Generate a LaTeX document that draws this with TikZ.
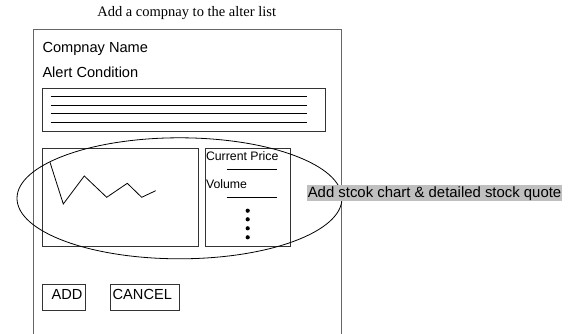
\documentclass[tikz,border=0pt]{standalone}
\usepackage{fontspec}
\setmainfont{Liberation Sans}
\newfontfamily\titlefont{Liberation Serif}
\begin{document}
\begin{tikzpicture}[x=1pt,y=-1pt,
  framecol/.style={draw=black!60, line width=1pt},
  boxline/.style={draw=black!80, line width=0.9pt},
  rbox/.style={boxline, rectangle, inner sep=0pt},
  big/.style={font=\fontsize{14.6}{16}\selectfont, inner sep=0pt},
  small/.style={font=\fontsize{12.3}{14}\selectfont, inner sep=0pt},
  thinline/.style={draw=black, line width=0.8pt},
  dotmark/.style={fill=black, circle, inner sep=0pt, minimum size=4.2pt},
]
\useasboundingbox (0,0) rectangle (571,333);
% title
\node[font=\titlefont\fontsize{14.5}{16}\selectfont, inner sep=0pt, anchor=base] (title) at (186.7,16.7) {Add a compnay to the alter list};
% outer frame (no bottom edge visible)
\coordinate (fbl) at (33.3,334);
\coordinate (ftl) at (33.3,29.3);
\coordinate (ftr) at (341.7,29.3);
\coordinate (fbr) at (341.7,334);
\draw[framecol] (fbl) -- (ftl) -- (ftr) -- (fbr);
% labels
\node[big, anchor=base west] (cname) at (42.3,52) {Compnay Name};
\node[big, anchor=base west] (acond) at (42.3,77.7) {Alert Condition};
% condition box
\node[rbox, minimum width=282.7pt, minimum height=42.7pt] (cbox) at (183.65,109.65) {};
\foreach \yy in {96.7,105.3,113.3,122}{
  \draw[thinline] (50.7,\yy) -- (307.3,\yy);
}
% chart box and quote box
\node[rbox, minimum width=156pt, minimum height=98.4pt] (chart) at (120.3,197.5) {};
\node[rbox, minimum width=85pt, minimum height=98.4pt] (quote) at (247.8,197.5) {};
\draw[thinline, line join=miter] (50,162.3) -- (63.3,204) -- (84.3,176) -- (106.7,197.3) -- (127.3,183.3) -- (141.7,197.3) -- (155.7,190.7);
\node[small, anchor=base west] (cprice) at (205.8,160) {Current Price};
\draw[thinline] (226.7,169.3) -- (276.7,169.3);
\node[small, anchor=base west] (vol) at (205.8,188.7) {Volume};
\draw[thinline] (226.7,197.7) -- (276.7,197.7);
\foreach \yy in {210.7,219.3,228.3,237.3}{
  \node[dotmark] at (247.7,\yy) {};
}
% ellipse
\coordinate (ec) at (179.5,198.3);
\draw[black, line width=0.8pt] (ec) ellipse [x radius=162.5pt, y radius=60.5pt];
% annotation
\node[big, anchor=west, fill=black!25, inner xsep=0.5pt, inner ysep=1pt, text height=11pt, text depth=3pt, font=\fontsize{14.9}{16}\selectfont] (note) at (307.1,193) {Add stcok chart \& detailed stock quote};
% buttons
\node[rbox, minimum width=43pt, minimum height=25.7pt] (addbtn) at (63.5,297.15) {};
\node[big, anchor=base west] (addtxt) at (51.5,299.3) {ADD};
\node[rbox, minimum width=68.6pt, minimum height=25.7pt] (cancelbtn) at (145,297.15) {};
\node[big, anchor=base west] (canceltxt) at (112.5,299.3) {CANCEL};
\end{tikzpicture}
\end{document}
